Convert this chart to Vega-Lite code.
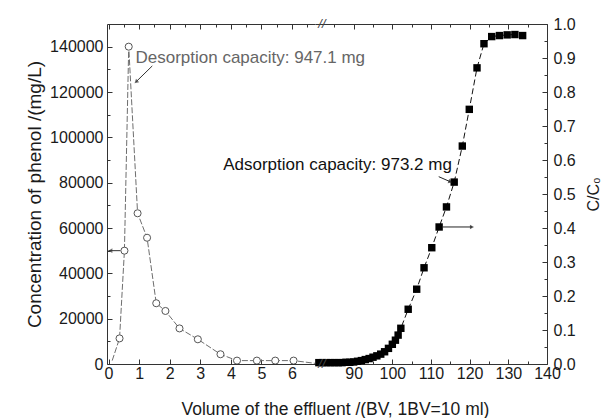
{
  "$schema": "https://vega.github.io/schema/vega-lite/v6.json",
  "background": "white",
  "padding": {"left": 25, "top": 16, "right": 0, "bottom": 0},
  "spacing": 0,
  "bounds": "flush",
  "config": {
    "view": {"stroke": null},
    "font": "Liberation Sans",
    "axis": {
      "domainColor": "#333333",
      "tickColor": "#333333",
      "labelColor": "#1a1a1a",
      "titleColor": "#1a1a1a",
      "labelFont": "Liberation Sans",
      "titleFont": "Liberation Sans",
      "labelFontSize": 16,
      "titleFontSize": 17,
      "titleFontWeight": "normal",
      "grid": false,
      "labelOverlap": false,
      "labelFlush": false,
      "domainWidth": 1,
      "tickWidth": 1
    }
  },
  "datasets": {
    "desorption": [
      {"bv": 0.12, "conc": 1500},
      {"bv": 0.36, "conc": 11300},
      {"bv": 0.52, "conc": 50000},
      {"bv": 0.66, "conc": 140000},
      {"bv": 0.95, "conc": 66500},
      {"bv": 1.26, "conc": 55700},
      {"bv": 1.56, "conc": 26800},
      {"bv": 1.86, "conc": 23400},
      {"bv": 2.32, "conc": 15700},
      {"bv": 2.92, "conc": 10900},
      {"bv": 3.66, "conc": 4300},
      {"bv": 4.2, "conc": 1500},
      {"bv": 4.85, "conc": 1500},
      {"bv": 5.45, "conc": 1500},
      {"bv": 6.05, "conc": 1500},
      {"bv": 6.75, "conc": 300}
    ],
    "adsorption": [
      {"bv": 81, "ratio": 0.004},
      {"bv": 82, "ratio": 0.004},
      {"bv": 83, "ratio": 0.004},
      {"bv": 84, "ratio": 0.004},
      {"bv": 85, "ratio": 0.004},
      {"bv": 86, "ratio": 0.004},
      {"bv": 87, "ratio": 0.004},
      {"bv": 88, "ratio": 0.005},
      {"bv": 89, "ratio": 0.005},
      {"bv": 90, "ratio": 0.006},
      {"bv": 91, "ratio": 0.008},
      {"bv": 92, "ratio": 0.01},
      {"bv": 93, "ratio": 0.013},
      {"bv": 94, "ratio": 0.016},
      {"bv": 95, "ratio": 0.02},
      {"bv": 96, "ratio": 0.024},
      {"bv": 97, "ratio": 0.029},
      {"bv": 98, "ratio": 0.036},
      {"bv": 99, "ratio": 0.046},
      {"bv": 100, "ratio": 0.058},
      {"bv": 100.8, "ratio": 0.07},
      {"bv": 101.5, "ratio": 0.085},
      {"bv": 102.2, "ratio": 0.105},
      {"bv": 104.1, "ratio": 0.161},
      {"bv": 106.3, "ratio": 0.22},
      {"bv": 108.2, "ratio": 0.283},
      {"bv": 110.2, "ratio": 0.342},
      {"bv": 112.1, "ratio": 0.403},
      {"bv": 114.0, "ratio": 0.462},
      {"bv": 116.0, "ratio": 0.535},
      {"bv": 118.1, "ratio": 0.641},
      {"bv": 119.9, "ratio": 0.749},
      {"bv": 121.9, "ratio": 0.871},
      {"bv": 123.7, "ratio": 0.942},
      {"bv": 125.7, "ratio": 0.963},
      {"bv": 127.7, "ratio": 0.966},
      {"bv": 129.7, "ratio": 0.968},
      {"bv": 131.7, "ratio": 0.969},
      {"bv": 133.7, "ratio": 0.966}
    ],
    "leftArrows": [
      {"bv": 0.0, "conc": 50000, "bv2": 0.39, "conc2": 50000},
      {"bv": 1.43, "conc": 131500, "bv2": 0.9, "conc2": 124500}
    ],
    "leftHeads": [
      {"bv": 0.06, "conc": 50000, "dir": 270},
      {"bv": 0.9, "conc": 124500, "dir": 228}
    ],
    "leftText": [
      {"bv": 0.88, "conc": 132800, "label": "Desorption capacity: 947.1 mg"}
    ],
    "rightArrows": [
      {"bv": 113.0, "ratio": 0.403, "bv2": 120.6, "ratio2": 0.403},
      {"bv": 112.0, "ratio": 0.551, "bv2": 115.0, "ratio2": 0.536}
    ],
    "rightHeads": [
      {"bv": 120.6, "ratio": 0.403, "dir": 90},
      {"bv": 115.0, "ratio": 0.536, "dir": 112}
    ],
    "rightText": [
      {"bv": 115.4, "ratio": 0.571, "label": "Adsorption capacity: 973.2 mg"}
    ],
    "breaks": [
      {"bv": 81.8, "ratio": 1.0, "label": "//"},
      {"bv": 81.8, "ratio": 0.0, "label": "//"}
    ]
  },
  "hconcat": [
    {
      "width": 208,
      "height": 340,
      "resolve": {"axis": {"x": "independent", "y": "independent"}},
      "layer": [
        {
          "data": {"name": "desorption"},
          "mark": {"type": "line", "color": "#6e6e6e", "strokeWidth": 1, "strokeDash": [6, 2], "clip": true},
          "encoding": {
            "x": {
              "field": "bv", "type": "quantitative",
              "scale": {"domain": [-0.05, 6.75], "nice": false, "zero": false},
              "axis": {
                "orient": "bottom",
                "values": [0, 0.5, 1, 1.5, 2, 2.5, 3, 3.5, 4, 4.5, 5, 5.5, 6, 6.5],
                "labelExpr": "datum.value % 1 === 0 ? datum.label : ''",
                "format": "d",
                "tickSize": {"condition": {"test": "datum.value % 1 === 0", "value": -5}, "value": -3},
                "labelPadding": 6,
                "title": "Volume of the effluent /(BV, 1BV=10 ml)",
                "titleX": 228,
                "titleY": 50,
                "titleAlign": "center",
                "titleBaseline": "alphabetic",
                "titleFontSize": 17.5
              }
            },
            "y": {
              "field": "conc", "type": "quantitative",
              "scale": {"domain": [0, 150000], "nice": false},
              "axis": {
                "orient": "left",
                "values": [0, 10000, 20000, 30000, 40000, 50000, 60000, 70000, 80000, 90000, 100000, 110000, 120000, 130000, 140000],
                "labelExpr": "datum.value % 20000 === 0 ? datum.label : ''",
                "format": "d",
                "tickSize": {"condition": {"test": "datum.value % 20000 === 0", "value": -5}, "value": -3},
                "labelPadding": 9,
                "title": "Concentration of phenol /(mg/L)",
                "titleFontSize": 19,
                "titlePadding": 5
              }
            }
          }
        },
        {
          "data": {"name": "desorption"},
          "transform": [{"filter": "datum.bv > 0.2 && datum.bv < 6.5"}],
          "mark": {"type": "point", "shape": "circle", "filled": true, "fill": "white", "stroke": "#555555", "strokeWidth": 1, "size": 50, "clip": true, "opacity": 1},
          "encoding": {
            "x": {
              "field": "bv", "type": "quantitative",
              "scale": {"domain": [-0.05, 6.75], "nice": false, "zero": false},
              "axis": {
                "orient": "top",
                "values": [0, 0.5, 1, 1.5, 2, 2.5, 3, 3.5, 4, 4.5, 5, 5.5, 6, 6.5],
                "labels": false,
                "title": null,
                "tickSize": {"condition": {"test": "datum.value % 1 === 0", "value": -5}, "value": -3}
              }
            },
            "y": {"field": "conc", "type": "quantitative", "scale": {"domain": [0, 150000], "nice": false}, "axis": null}
          }
        },
        {
          "data": {"name": "leftArrows"},
          "mark": {"type": "rule", "color": "#333333", "strokeWidth": 1},
          "encoding": {
            "x": {"field": "bv", "type": "quantitative", "scale": {"domain": [-0.05, 6.75], "nice": false, "zero": false}, "axis": null},
            "x2": {"field": "bv2"},
            "y": {"field": "conc", "type": "quantitative", "scale": {"domain": [0, 150000], "nice": false}, "axis": null},
            "y2": {"field": "conc2"}
          }
        },
        {
          "data": {"name": "leftHeads"},
          "mark": {"type": "point", "shape": "triangle-up", "filled": true, "color": "#333333", "size": 22},
          "encoding": {
            "x": {"field": "bv", "type": "quantitative", "scale": {"domain": [-0.05, 6.75], "nice": false, "zero": false}, "axis": null},
            "y": {"field": "conc", "type": "quantitative", "scale": {"domain": [0, 150000], "nice": false}, "axis": null},
            "angle": {"field": "dir", "type": "quantitative", "scale": null}
          }
        },
        {
          "data": {"name": "leftText"},
          "mark": {"type": "text", "align": "left", "baseline": "alphabetic", "fontSize": 17, "color": "#666666", "font": "Liberation Sans"},
          "encoding": {
            "x": {"field": "bv", "type": "quantitative", "scale": {"domain": [-0.05, 6.75], "nice": false, "zero": false}, "axis": null},
            "y": {"field": "conc", "type": "quantitative", "scale": {"domain": [0, 150000], "nice": false}, "axis": null},
            "text": {"field": "label"}
          }
        }
      ]
    },
    {
      "width": 232,
      "height": 340,
      "resolve": {"axis": {"x": "independent", "y": "independent"}},
      "layer": [
        {
          "data": {"name": "adsorption"},
          "mark": {"type": "line", "color": "#111111", "strokeWidth": 1, "strokeDash": [6, 3]},
          "encoding": {
            "x": {
              "field": "bv", "type": "quantitative",
              "scale": {"domain": [80, 140], "nice": false, "zero": false},
              "axis": {
                "orient": "bottom",
                "values": [85, 90, 95, 100, 105, 110, 115, 120, 125, 130, 135, 140],
                "labelExpr": "datum.value % 10 === 0 ? datum.label : ''",
                "format": "d",
                "tickSize": {"condition": {"test": "datum.value % 10 === 0", "value": -5}, "value": -3},
                "labelPadding": 6,
                "title": null
              }
            },
            "y": {
              "field": "ratio", "type": "quantitative",
              "scale": {"domain": [0, 1], "nice": false},
              "axis": {
                "orient": "right",
                "values": [0, 0.05, 0.1, 0.15, 0.2, 0.25, 0.3, 0.35, 0.4, 0.45, 0.5, 0.55, 0.6, 0.65, 0.7, 0.75, 0.8, 0.85, 0.9, 0.95, 1],
                "labelExpr": "round(datum.value * 20) % 2 === 0 ? datum.label : ''",
                "format": ".1f",
                "tickSize": {"condition": {"test": "round(datum.value * 20) % 2 === 0", "value": -5}, "value": -3},
                "labelPadding": 11,
                "title": "C/C₀",
                "titleAngle": 270,
                "titleBaseline": "top",
                "titleFontSize": 16,
                "titlePadding": 10
              }
            }
          }
        },
        {
          "data": {"name": "adsorption"},
          "mark": {"type": "square", "filled": true, "color": "#000000", "size": 55, "opacity": 1},
          "encoding": {
            "x": {
              "field": "bv", "type": "quantitative",
              "scale": {"domain": [80, 140], "nice": false, "zero": false},
              "axis": {
                "orient": "top",
                "values": [85, 90, 95, 100, 105, 110, 115, 120, 125, 130, 135, 140],
                "labels": false,
                "title": null,
                "tickSize": {"condition": {"test": "datum.value % 10 === 0", "value": -5}, "value": -3}
              }
            },
            "y": {"field": "ratio", "type": "quantitative", "scale": {"domain": [0, 1], "nice": false}, "axis": null}
          }
        },
        {
          "data": {"name": "rightArrows"},
          "mark": {"type": "rule", "color": "#222222", "strokeWidth": 1},
          "encoding": {
            "x": {"field": "bv", "type": "quantitative", "scale": {"domain": [80, 140], "nice": false, "zero": false}, "axis": null},
            "x2": {"field": "bv2"},
            "y": {"field": "ratio", "type": "quantitative", "scale": {"domain": [0, 1], "nice": false}, "axis": null},
            "y2": {"field": "ratio2"}
          }
        },
        {
          "data": {"name": "rightHeads"},
          "mark": {"type": "point", "shape": "triangle-up", "filled": true, "color": "#222222", "size": 22},
          "encoding": {
            "x": {"field": "bv", "type": "quantitative", "scale": {"domain": [80, 140], "nice": false, "zero": false}, "axis": null},
            "y": {"field": "ratio", "type": "quantitative", "scale": {"domain": [0, 1], "nice": false}, "axis": null},
            "angle": {"field": "dir", "type": "quantitative", "scale": null}
          }
        },
        {
          "data": {"name": "rightText"},
          "mark": {"type": "text", "align": "right", "baseline": "alphabetic", "fontSize": 17, "color": "#111111", "font": "Liberation Sans"},
          "encoding": {
            "x": {"field": "bv", "type": "quantitative", "scale": {"domain": [80, 140], "nice": false, "zero": false}, "axis": null},
            "y": {"field": "ratio", "type": "quantitative", "scale": {"domain": [0, 1], "nice": false}, "axis": null},
            "text": {"field": "label"}
          }
        },
        {
          "data": {"name": "breaks"},
          "mark": {"type": "text", "align": "center", "baseline": "middle", "fontSize": 13, "fontStyle": "italic", "color": "#444444", "font": "Liberation Sans"},
          "encoding": {
            "x": {"field": "bv", "type": "quantitative", "scale": {"domain": [80, 140], "nice": false, "zero": false}, "axis": null},
            "y": {"field": "ratio", "type": "quantitative", "scale": {"domain": [0, 1], "nice": false}, "axis": null},
            "text": {"field": "label"}
          }
        }
      ]
    }
  ]
}
